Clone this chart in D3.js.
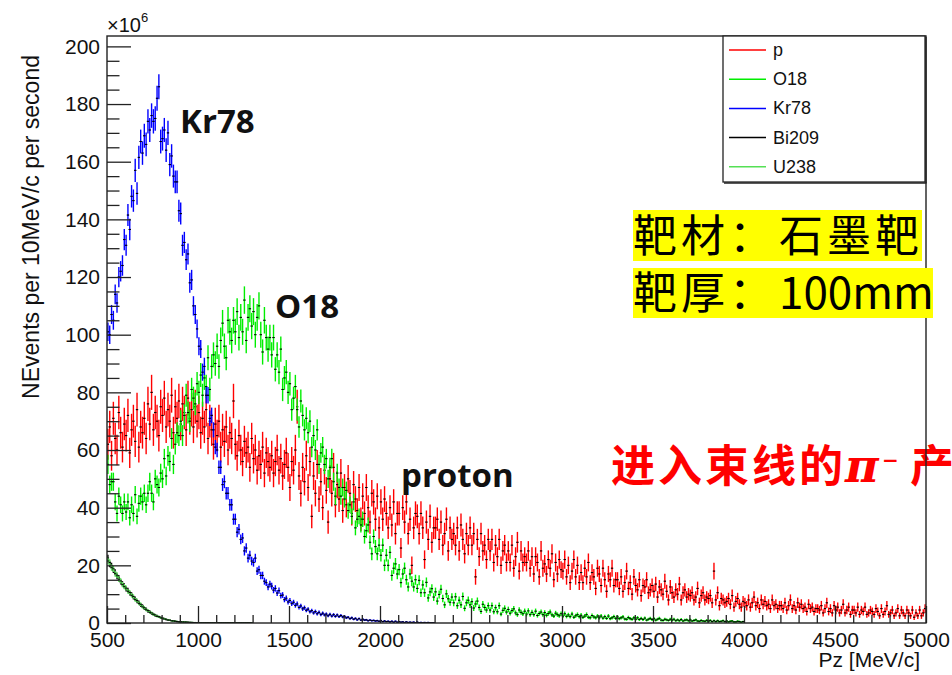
<!DOCTYPE html>
<html>
<head>
<meta charset="utf-8">
<script src="https://d3js.org/d3.v7.min.js"></script>
<style>
  body { margin: 0; background: #fff; }
  svg { display: block; }
  text { font-family: "Liberation Sans", Arial, sans-serif; }
</style>
</head>
<body>
<svg id="chart" width="952" height="675"></svg>
<script>
// Histogram binning: 10 MeV/c bins starting at 500 MeV/c
const binStart = 500
const binWidth = 10

// Counts per bin (x10^6 events per second)
const pCounts = [
  62, 68, 58, 71, 64, 60, 73, 66, 61, 69,
  65, 72, 59, 67, 70, 63, 74, 61, 68, 66,
  71, 64, 76, 69, 80, 67, 73, 70, 65, 75,
  72, 78, 68, 74, 70, 79, 66, 75, 71, 77,
  69, 76, 73, 67, 78, 71, 74, 68, 75, 70,
  73, 66, 71, 68, 74, 64, 70, 67, 62, 69,
  65, 70, 61, 67, 63, 68, 60, 66, 64, 77,
  62, 58, 65, 60, 56, 63, 59, 61, 54, 64,
  57, 60, 53, 58, 55, 61, 52, 59, 56, 54,
  58, 52, 56, 60, 53, 57, 51, 55, 59, 54,
  47, 56, 53, 60, 75, 51, 45, 54, 49, 58,
  47, 56, 37, 51, 45, 55, 43, 49, 40, 53,
  46, 35, 50, 45, 54, 41, 48, 43, 52, 39,
  47, 41, 50, 45, 38, 48, 43, 39, 47, 36,
  44, 38, 47, 40, 35, 45, 42, 36, 44, 33,
  42, 36, 43, 38, 33, 40, 34, 42, 31, 38,
  38, 26, 40, 35, 42, 31, 36, 20, 33, 38,
  37, 31, 38, 33, 22, 35, 29, 37, 28, 33,
  33, 36, 29, 35, 27, 31, 36, 25, 33, 29,
  31, 27, 33, 25, 34, 29, 24, 31, 27, 33,
  27, 31, 16, 29, 23, 31, 25, 27, 22, 29,
  25, 29, 21, 27, 23, 29, 20, 25, 27, 21,
  25, 21, 27, 19, 23, 28, 18, 25, 21, 23,
  21, 25, 19, 23, 17, 23, 21, 16, 25, 19,
  20.5, 17, 22, 19, 24, 15, 21, 17, 22, 18.5,
  18, 22, 16, 20, 14, 18, 22, 16, 20, 14,
  17.5, 14, 19, 16, 21, 14, 17.5, 16, 12, 19,
  17, 13, 19, 15, 11, 17, 15, 19, 13, 15,
  15, 12, 16, 11, 14, 18, 12, 14, 10, 16,
  13, 11.5, 15, 9.5, 13, 12.5, 15, 10.5, 11.5, 13,
  11, 13.5, 9, 12.5, 11.5, 10, 14.5, 11, 8, 12.5,
  10.5, 9, 11.5, 10, 13.5, 8, 10.5, 11.5, 9, 10,
  9.5, 10.5, 8, 9, 12, 7, 9.5, 10.5, 8, 9,
  8.5, 9.5, 7, 18, 8, 10.5, 6, 8.5, 8, 7,
  7.5, 8.5, 6.5, 9.5, 5.5, 7.5, 8.5, 6.5, 5.5, 7.5,
  7, 6, 8, 5.5, 7, 9, 6, 7, 5, 8,
  6.5, 7.5, 6, 6.5, 5, 8, 6, 6.5, 5, 6,
  6, 5, 7, 4.5, 6, 8, 5, 6, 4.5, 7,
  5.5, 6.5, 5, 5.5, 4, 6.5, 5, 5.5, 4, 5,
  5, 4.5, 6, 3.5, 5, 7, 4, 5, 3.5, 6,
  4.5, 5.5, 3.5, 4.5, 6.5, 3.5, 4.5, 5.5, 3, 4.5,
  4.5, 3.5, 5.5, 3, 4.5, 4, 5.5, 3, 3.5, 4.5,
  4, 3, 5, 4, 2.5, 5, 3, 4, 6, 3,
  3.5, 4.5, 2.5, 3.5, 5, 2.5, 4.5, 3.5, 2.5, 4.5,
  3.5, 2.5, 4.5, 2, 3.5, 2.5, 4.5, 2.5, 3.5, 5
]

const o18Counts = [
  55, 48, 49, 49, 42, 38, 44, 41, 38, 42,
  38.5, 42, 36.5, 41, 38, 44.5, 37, 41.5, 44, 42,
  45, 41, 45, 49, 45, 42, 50, 48, 47, 52,
  50, 57, 51, 58, 56, 64, 55, 62, 66, 65,
  70, 65, 72, 79, 73, 70, 81, 78, 76, 83,
  80, 86, 79, 85, 82, 92, 81, 89, 93, 90,
  96, 89, 98, 104, 96, 92, 105, 101, 98, 105,
  101, 108, 99, 106, 101, 112, 98, 106, 109, 103,
  108, 100, 106, 110, 100, 94, 105, 99, 95, 99,
  93, 99, 88, 93, 87, 95, 81, 85, 87, 80,
  83, 74, 78, 82, 74, 68, 77, 72, 67, 71,
  66, 70, 61, 65, 60, 67, 55, 59, 61, 55,
  57, 50, 54, 57, 49, 44, 52, 47, 44, 47,
  43, 46, 39, 41, 37, 42, 33, 36, 37, 34,
  36, 30, 32, 34, 28, 24, 30, 26.5, 24, 27,
  23.5, 27, 20, 23.5, 20, 24.5, 16.5, 19, 20.5, 17,
  18.5, 14, 17, 19, 15, 12.5, 17, 14.5, 12.5, 15,
  12, 14.8, 10.5, 13.2, 10.5, 14.1, 8.7, 10.8, 11.9, 9,
  10.8, 7.6, 9.9, 11.7, 8.5, 6.3, 10.1, 8.4, 7.2, 9,
  7, 9.1, 6, 7.9, 6.3, 9.2, 5.1, 7, 7.9, 6.3,
  7.4, 5.2, 6.6, 7.6, 5.4, 4, 6.5, 5.4, 4.5, 6,
  4.5, 6, 3.9, 5.3, 3.9, 6, 3.1, 4.4, 5.1, 3.8,
  4.7, 3.4, 4.3, 4.9, 3.5, 2.9, 4.5, 3.7, 3.2, 4.1,
  3.1, 4.2, 2.9, 3.7, 2.9, 4.1, 2.6, 3.3, 3.8, 2.9,
  3.6, 2.7, 3.3, 3.8, 2.8, 2.4, 3.4, 2.9, 2.5, 3.2,
  2.4, 3.2, 2.3, 2.8, 2.2, 3.1, 2, 2.5, 2.9, 2.2,
  2.7, 2, 2.4, 2.9, 2, 1.8, 2.6, 2.1, 1.8, 2.4,
  1.8, 2.4, 1.7, 2.2, 1.6, 2.4, 1.5, 1.8, 2.2, 1.6,
  2.1, 1.5, 1.8, 2.1, 1.4, 1.3, 1.9, 1.5, 1.3, 1.8,
  1.3, 1.8, 1.2, 1.6, 1.2, 1.7, 1, 1.3, 1.6, 1.2,
  1.5, 1, 1.3, 1.6, 1, 0.9, 1.3, 1.1, 0.9, 1.3,
  1, 1.3, 0.8, 1.1, 0.8, 1.2, 0.7, 1, 1.1, 0.8,
  1.1, 0.7, 0.9, 1.1, 0.7, 0.6, 0.9, 0.7, 0.6, 0.9,
  0.6, 0.9, 0.5, 0.8, 0.5, 0.8, 0.5, 0.6, 0.8, 0.5,
  0.7, 0.4, 0.6, 0.7, 0.4, 0.4, 0.6, 0.5, 0.3, 0.5
]

const kr78Counts = [
  101, 100, 107, 105, 114, 111, 120, 122, 124, 133,
  131, 141.5, 136.5, 148, 146.5, 157, 149, 161.5, 167, 163,
  169, 166, 174, 171, 176, 174, 175, 182, 186, 167,
  168, 171, 164, 170, 159, 162, 155, 153, 153, 143,
  142, 131, 132, 126, 128, 118, 119, 110, 107, 102,
  96, 95, 87, 89, 79, 79, 71, 72, 67, 61,
  60, 54, 54, 48, 49, 45, 45, 41, 41, 36,
  36, 31.5, 32.5, 29, 29.5, 25, 26, 22.5, 23.5, 21.5,
  21, 22.5, 18, 18.5, 16.5, 16.5, 14.5, 14, 12.5, 13.5,
  12.8, 11.4, 12, 10.4, 11.2, 9.5, 9.7, 8.1, 8.6, 7.3,
  7.8, 6.7, 7.2, 6.1, 6.6, 5.4, 5.9, 4.9, 5.3, 4.4,
  4.8, 3.9, 4.3, 3.5, 4, 3.2, 3.7, 2.9, 3.4, 2.8,
  3.1, 2.5, 3, 2.4, 2.9, 2.3, 2.8, 2.2, 2.6, 2.1,
  2.3, 1.8, 2, 1.5, 1.8, 1.3, 1.6, 1.1, 1.5, 1,
  1.3, 1, 1.1, 0.8, 1, 0.8, 0.9, 0.7, 0.8, 0.6,
  0.8, 0.5, 0.7, 0.5, 0.6, 0.4, 0.6, 0.3, 0.6, 0.3,
  0.5, 0.3, 0.4, 0.2, 0.4, 0.2, 0.3, 0.2, 0.3, 0.1,
  0.3, 0.1, 0.2, 0.1, 0.2, 0.1, 0.2, 0.1, 0.1, 0.1
]

const bi209Counts = [
  22.5, 20.5, 19.8, 18.4, 17.6, 16.2, 15.7, 14.3, 13.6, 12.9,
  11.8, 11.4, 10.3, 9.9, 8.9, 8.5, 7.5, 7.1, 6.2, 5.9,
  5.1, 4.8, 4.1, 3.9, 3.3, 3.1, 2.6, 2.5, 2.1, 1.9,
  1.6, 1.5, 1.2, 1.1, 0.9, 0.8, 0.7, 0.6, 0.5, 0.45,
  0.4, 0.35, 0.3, 0.3, 0.25, 0.2, 0.2, 0.15, 0.15, 0.1
]

const u238Counts = [
  21.5, 21, 19.2, 18.8, 17.1, 16.6, 15.2, 14.6, 13.3, 12.6,
  12.1, 11, 10.6, 9.6, 9.2, 8.1, 7.8, 6.8, 6.5, 5.6,
  5.3, 4.6, 4.3, 3.7, 3.5, 2.9, 2.8, 2.3, 2.2, 1.8,
  1.7, 1.4, 1.3, 1.0, 1.0, 0.8, 0.75, 0.6, 0.55, 0.45,
  0.42, 0.36, 0.32, 0.28, 0.26, 0.22, 0.2, 0.18, 0.15, 0.12,
  0.1, 0.1, 0.1, 0.1, 0.1, 0.1, 0.1, 0.1, 0.1, 0.1,
  0.1, 0.1, 0.1, 0.1, 0.1, 0.1, 0.1, 0.1, 0.1, 0.1,
  0.1, 0.1, 0.1, 0.1, 0.1, 0.1, 0.1, 0.1, 0.1, 0.1
]

// Axis ticks
const xTicks = [500, 1000, 1500, 2000, 2500, 3000, 3500, 4000, 4500, 5000]
const yTicks = [0, 20, 40, 60, 80, 100, 120, 140, 160, 180, 200]

// Legend entries (same order as drawn)
const legendNames = ['p', 'O18', 'Kr78', 'Bi209', 'U238']
const seriesColors = ['#ff0000', '#00ee00', '#0000ff', '#000000', '#55e055']

// Series table; errScale ~ sqrt(N) weight giving the error bar size
const series = [
  { name: 'p', values: pCounts, errScale: 0.68 },
  { name: 'O18', values: o18Counts, errScale: 0.45 },
  { name: 'Kr78', values: kr78Counts, errScale: 0.32 },
  { name: 'Bi209', values: bi209Counts, errScale: 0.25 },
  { name: 'U238', values: u238Counts, errScale: 0.25 }
].map((s, i) => ({ ...s, color: seriesColors[i] }))

// Frame geometry (ROOT pad)
const frame = { left: 107, right: 926, top: 36, bottom: 623 }

const svg = d3.select('#chart')

const x = d3.scaleLinear().domain([500, 5000]).range([frame.left, frame.right])
const y = d3.scaleLinear().domain([0, 203.6]).range([frame.bottom, frame.top])

// Red slide annotation sits behind the plot frame
const redNote = svg.append('text')
  .attr('y', 482)
  .attr('fill', '#ff0000')
  .style('font-weight', 'bold')
  .style('font-size', '44px')
redNote.append('tspan').attr('x', 611)
  .style('font-family', '"Noto Sans CJK SC"').style('letter-spacing', '3px')
  .text('进入束线的')
redNote.append('tspan').attr('x', 845)
  .style('font-family', '"DejaVu Serif"').style('font-style', 'italic').style('font-size', '46px')
  .text('π')
redNote.append('tspan').attr('x', 882).attr('y', 467)
  .style('font-family', '"DejaVu Sans"').style('font-size', '20px')
  .text('−')
redNote.append('tspan').attr('x', 910).attr('y', 482)
  .style('font-family', '"Noto Sans CJK SC"')
  .text('产')

// Clip histograms to the frame
svg.append('clipPath').attr('id', 'plotClip')
  .append('rect')
  .attr('x', frame.left).attr('y', frame.top)
  .attr('width', frame.right - frame.left).attr('height', frame.bottom - frame.top)

const plot = svg.append('g').attr('clip-path', 'url(#plotClip)')

// Draw one histogram with error bars (ROOT "E" style)
const drawSeries = s => {
  const bins = s.values.map((v, i) => ({
    lo: binStart + i * binWidth,
    v: v,
    e: s.errScale * Math.sqrt(v)
  }))
  const g = plot.append('g').attr('class', 'hist-' + s.name)
  g.selectAll('line.err').data(bins).join('line')
    .attr('class', 'err')
    .attr('x1', d => x(d.lo + binWidth / 2)).attr('x2', d => x(d.lo + binWidth / 2))
    .attr('y1', d => y(d.v - d.e)).attr('y2', d => y(d.v + d.e))
    .attr('stroke', s.color).attr('stroke-width', 1.4)
  g.selectAll('line.bin').data(bins).join('line')
    .attr('class', 'bin')
    .attr('x1', d => x(d.lo)).attr('x2', d => x(d.lo + binWidth))
    .attr('y1', d => y(d.v)).attr('y2', d => y(d.v))
    .attr('stroke', s.color).attr('stroke-width', 1.2)
  g.selectAll('rect.marker').data(bins).join('rect')
    .attr('class', 'marker')
    .attr('x', d => x(d.lo + binWidth / 2) - 1.2).attr('y', d => y(d.v) - 0.5)
    .attr('width', 2.4).attr('height', 1)
    .attr('fill', '#000')
}

series.forEach(drawSeries)

// Axes: ticks drawn inward like ROOT
svg.append('g')
  .attr('transform', `translate(${frame.left},0)`)
  .call(d3.axisLeft(y).tickValues(yTicks).tickSize(-24).tickPadding(7).tickFormat(d3.format('d')))
svg.append('g')
  .attr('transform', `translate(${frame.left},0)`)
  .call(d3.axisLeft(y).tickValues(d3.range(0, 203, 5).filter(v => v % 20)).tickSize(-12.5).tickFormat(''))

svg.append('g')
  .attr('transform', `translate(0,${frame.bottom})`)
  .call(d3.axisBottom(x).tickValues(xTicks).tickSize(-17).tickPadding(9).tickFormat(d3.format('d')))
svg.append('g')
  .attr('transform', `translate(0,${frame.bottom})`)
  .call(d3.axisBottom(x).tickValues(d3.range(600, 5000, 100).filter(v => v % 500)).tickSize(-8).tickFormat(''))

svg.selectAll('.domain').remove()
svg.selectAll('.tick line').attr('stroke', '#222').attr('stroke-width', 1.3)
svg.selectAll('.tick text')
  .attr('fill', '#111')
  .style('font-size', '21px')
  .style('font-family', '"Liberation Sans", Arial, sans-serif')

// Frame box
svg.append('rect')
  .attr('x', frame.left).attr('y', frame.top)
  .attr('width', frame.right - frame.left).attr('height', frame.bottom - frame.top)
  .attr('fill', 'none').attr('stroke', '#222').attr('stroke-width', 1.4)

// Exponent marker above y axis
const expo = svg.append('text').attr('x', frame.left).attr('y', 32)
  .style('font-size', '20px').attr('fill', '#111')
expo.append('tspan').text('×10')
expo.append('tspan').attr('dy', -10).style('font-size', '13px').text('6')

// Axis titles
svg.append('text')
  .attr('transform', 'translate(39,55) rotate(-90)')
  .attr('text-anchor', 'end')
  .style('font-size', '23px').attr('fill', '#111')
  .text('NEvents per 10MeV/c per second')

svg.append('text')
  .attr('x', 920).attr('y', 667)
  .attr('text-anchor', 'end')
  .style('font-size', '21px').attr('fill', '#111')
  .text('Pz [MeV/c]')

// Legend box
const legend = svg.append('g').attr('class', 'legend')
legend.append('rect')
  .attr('x', 723).attr('y', 36).attr('width', 202).attr('height', 146)
  .attr('fill', '#fff').attr('stroke', '#222').attr('stroke-width', 1.3)
legend.append('line')
  .attr('x1', 724).attr('x2', 926.5).attr('y1', 183).attr('y2', 183)
  .attr('stroke', '#222').attr('stroke-width', 1.3)
legend.append('line')
  .attr('x1', 926).attr('x2', 926).attr('y1', 37).attr('y2', 183)
  .attr('stroke', '#222').attr('stroke-width', 1.3)

const entries = legend.selectAll('g.entry').data(series).join('g')
  .attr('class', 'entry')
  .attr('transform', (d, i) => `translate(0,${56 + i * 29.2})`)
entries.append('line')
  .attr('x1', 729).attr('x2', 766).attr('y1', -6).attr('y2', -6)
  .attr('stroke', d => d.color).attr('stroke-width', 1.5)
entries.append('text')
  .attr('x', 773).attr('y', 0)
  .style('font-size', '18px').attr('fill', '#111')
  .text((d, i) => legendNames[i])

// Slide annotations on the curves
const notes = [
  { label: 'Kr78', x: 180, y: 133 },
  { label: 'O18', x: 275, y: 318 },
  { label: 'proton', x: 401, y: 487 }
]
svg.selectAll('text.note').data(notes).join('text')
  .attr('class', 'note')
  .attr('x', d => d.x).attr('y', d => d.y)
  .style('font-family', '"Open Sans", sans-serif')
  .style('font-weight', 'bold').style('font-size', '33px')
  .attr('fill', '#111')
  .text(d => d.label)

// Yellow highlighted target info (drawn over the frame)
const infoBoxes = [
  { y: 210, h: 51, w: 289, cjk: '靶材：', rest: '石墨靶', restCjk: true },
  { y: 268, h: 50, w: 300, cjk: '靶厚：', rest: '100mm', restCjk: false }
]
const info = svg.selectAll('g.info').data(infoBoxes).join('g').attr('class', 'info')
info.append('rect')
  .attr('x', 633).attr('y', d => d.y).attr('width', d => d.w).attr('height', d => d.h)
  .attr('fill', '#ffff00')
const infoText = info.append('text')
  .attr('y', d => d.y + d.h - 9)
  .style('font-family', '"Noto Sans CJK SC"').style('font-size', '44px')
  .attr('fill', '#000')
infoText.append('tspan').attr('x', 633).style('letter-spacing', '4px').text(d => d.cjk)
infoText.append('tspan').attr('x', 779)
  .style('letter-spacing', d => d.restCjk ? '4px' : '0px')
  .text(d => d.rest)
</script>
</body>
</html>
